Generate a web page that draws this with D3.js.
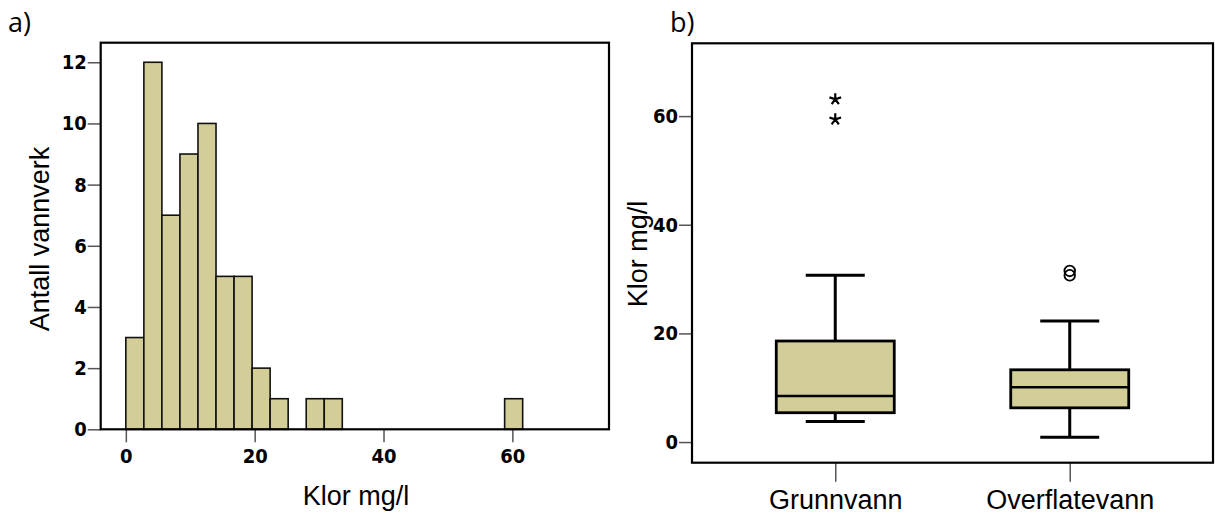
<!DOCTYPE html>
<html>
<head>
<meta charset="utf-8">
<script src="https://cdn.jsdelivr.net/npm/d3@7"></script>
<style>
  body { margin: 0; background: #fff; }
  .tick text { font-family: "DejaVu Sans", sans-serif; font-stretch: condensed; font-weight: bold; font-size: 20px; fill: #000; }
  .tick line { stroke: #555; stroke-width: 1.5px; }
  .title { font-family: "Liberation Sans", Arial, sans-serif; font-size: 27px; fill: #000; }
  .panel { font-family: "Open Sans", "DejaVu Sans", sans-serif; font-size: 27px; fill: #000; }
</style>
</head>
<body>
<script>
(function(){

//histogram data (bin start, counts), bin width 2.8
var binStarts = [0, 2.8, 5.6, 8.4, 11.2, 14, 16.8, 19.6, 22.4, 28, 30.8, 58.8];
var binCounts = [3, 12, 7, 9, 10, 5, 5, 2, 1, 1, 1, 1];
var binWidth = 2.8;
var histXTicks = [0, 20, 40, 60];
var histYTicks = [0, 2, 4, 6, 8, 10, 12];

//boxplot data
var groups = ["Grunnvann", "Overflatevann"];
var whiskerLow = [3.8, 0.9];
var q1 = [5.4, 6.3];
var median = [8.5, 10.1];
var q3 = [18.6, 13.3];
var whiskerHigh = [30.7, 22.3];
var extremes = [[63.1, 59.4], []];   //stars
var outliers = [[], [31.5, 30.7]];   //circles
var boxYTicks = [0, 20, 40, 60];

var fillColor = "#d3ce97";

var svg = d3.select("body").append("svg")
    .attr("width", 1215)
    .attr("height", 515);

//----- panel a: histogram -----
var ax = d3.scaleLinear().domain([-3.9, 75]).range([100.7, 609]);
var ay = d3.scaleLinear().domain([0, 12.64]).range([429.3, 42.7]);

svg.append("text").attr("class", "panel").attr("x", 8).attr("y", 32).text("a)");

var bins = binStarts.map(function(s, i){ return {x0: s, x1: s + binWidth, n: binCounts[i]}; });

svg.append("g").selectAll("rect")
    .data(bins)
    .enter()
    .append("rect")
    .attr("x", function(d){ return ax(d.x0); })
    .attr("width", function(d){ return ax(d.x1) - ax(d.x0); })
    .attr("y", function(d){ return ay(d.n); })
    .attr("height", function(d){ return ay(0) - ay(d.n); })
    .style("fill", fillColor)
    .style("stroke", "#111")
    .style("stroke-width", 1.6);

var axA = svg.append("g")
    .attr("transform", "translate(0," + ay(0) + ")")
    .call(d3.axisBottom(ax).tickValues(histXTicks).tickSize(13));
axA.select(".domain").remove();
axA.selectAll(".tick text").attr("y", 34).attr("dy", 0);

var ayA = svg.append("g")
    .attr("transform", "translate(" + ax.range()[0] + ",0)")
    .call(d3.axisLeft(ay).tickValues(histYTicks).tickSize(13).tickPadding(1));
ayA.select(".domain").remove();

svg.append("rect")
    .attr("x", ax.range()[0]).attr("y", ay.range()[1])
    .attr("width", ax.range()[1] - ax.range()[0])
    .attr("height", ay.range()[0] - ay.range()[1])
    .style("fill", "none").style("stroke", "#000").style("stroke-width", 2.2);

svg.append("text").attr("class", "title")
    .attr("x", 356).attr("y", 505)
    .attr("text-anchor", "middle")
    .text("Klor mg/l");

svg.append("text").attr("class", "title")
    .attr("transform", "translate(49,239) rotate(-90)")
    .attr("text-anchor", "middle")
    .text("Antall vannverk");

//----- panel b: boxplot -----
var bx = d3.scalePoint().domain(groups).range([692, 1213]).padding(0.611);
var by = d3.scaleLinear().domain([-3.8, 73.4]).range([462.7, 43.3]);
var boxW = 118, capW = 59;

svg.append("text").attr("class", "panel").attr("x", 670).attr("y", 32).text("b)");

var ayB = svg.append("g")
    .attr("transform", "translate(692,0)")
    .call(d3.axisLeft(by).tickValues(boxYTicks).tickSize(13).tickPadding(1));
ayB.select(".domain").remove();

var axB = svg.append("g")
    .attr("transform", "translate(0," + by.range()[0] + ")")
    .call(d3.axisBottom(bx).tickSize(19));
axB.select(".domain").remove();
axB.selectAll(".tick text")
    .attr("y", 46)
    .attr("dy", 0)
    .style("font-family", "'Liberation Sans', Arial, sans-serif")
    .style("font-weight", "normal")
    .style("font-stretch", "normal")
    .style("font-size", "27px");

var boxes = svg.append("g").selectAll("g")
    .data(groups)
    .enter()
    .append("g");

//whisker stems
boxes.append("line")
    .attr("x1", function(d){ return bx(d); })
    .attr("x2", function(d){ return bx(d); })
    .attr("y1", function(d, i){ return by(whiskerLow[i]); })
    .attr("y2", function(d, i){ return by(whiskerHigh[i]); })
    .style("stroke", "#000").style("stroke-width", 3);

//caps
[whiskerLow, whiskerHigh].forEach(function(arr){
    boxes.append("line")
        .attr("x1", function(d){ return bx(d) - capW / 2; })
        .attr("x2", function(d){ return bx(d) + capW / 2; })
        .attr("y1", function(d, i){ return by(arr[i]); })
        .attr("y2", function(d, i){ return by(arr[i]); })
        .style("stroke", "#000").style("stroke-width", 3);
});

boxes.append("rect")
    .attr("x", function(d){ return bx(d) - boxW / 2; })
    .attr("width", boxW)
    .attr("y", function(d, i){ return by(q3[i]); })
    .attr("height", function(d, i){ return by(q1[i]) - by(q3[i]); })
    .style("fill", fillColor).style("stroke", "#000").style("stroke-width", 2.8);

boxes.append("line")
    .attr("x1", function(d){ return bx(d) - boxW / 2; })
    .attr("x2", function(d){ return bx(d) + boxW / 2; })
    .attr("y1", function(d, i){ return by(median[i]); })
    .attr("y2", function(d, i){ return by(median[i]); })
    .style("stroke", "#000").style("stroke-width", 2.5);

//SPSS style five-armed asterisk for extremes
var asterisk5 = {
    draw: function(context, size){
        var r = Math.sqrt(size) / 2;
        for (var k = 0; k < 5; k++){
            var a = -Math.PI / 2 + k * 2 * Math.PI / 5;
            context.moveTo(0, 0);
            context.lineTo(r * Math.cos(a), r * Math.sin(a));
        }
    }
};
var star = d3.symbol().type(asterisk5).size(150);

groups.forEach(function(g, i){
    svg.append("g").selectAll("path")
        .data(extremes[i])
        .enter()
        .append("path")
        .attr("d", star)
        .attr("transform", function(v){ return "translate(" + bx(g) + "," + by(v) + ")"; })
        .style("fill", "none").style("stroke", "#000").style("stroke-width", 2.2);

    svg.append("g").selectAll("circle")
        .data(outliers[i])
        .enter()
        .append("circle")
        .attr("cx", bx(g))
        .attr("cy", function(v){ return by(v); })
        .attr("r", 5.3)
        .style("fill", "none").style("stroke", "#000").style("stroke-width", 1.8);
});

svg.append("rect")
    .attr("x", 692).attr("y", by.range()[1])
    .attr("width", 1213 - 692)
    .attr("height", by.range()[0] - by.range()[1])
    .style("fill", "none").style("stroke", "#000").style("stroke-width", 2.2);

svg.append("text").attr("class", "title")
    .attr("transform", "translate(647,254) rotate(-90)")
    .attr("text-anchor", "middle")
    .text("Klor mg/l");

})();
</script>
</body>
</html>
